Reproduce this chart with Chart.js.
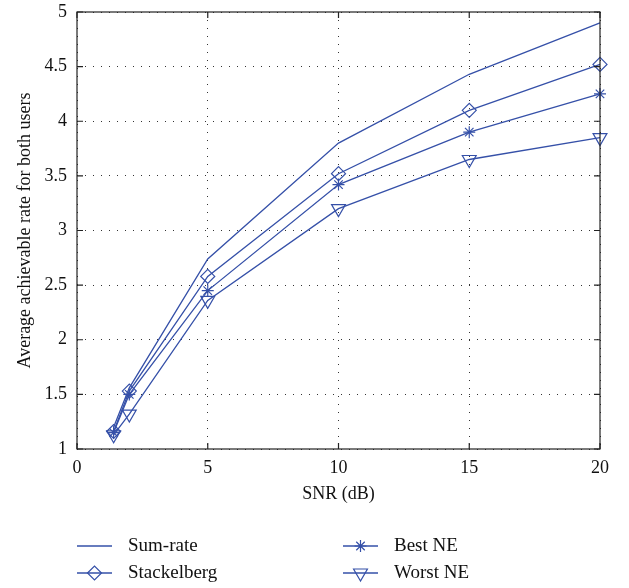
<!DOCTYPE html>
<html>
<head>
<meta charset="utf-8">
<script src="https://cdn.jsdelivr.net/npm/chart.js@4"></script>
<style>
  html, body { margin: 0; padding: 0; background: #fff; }
  #wrap { width: 629px; height: 588px; }
</style>
</head>
<body>
<div id="wrap"><canvas id="c"></canvas></div>
<script>
// values
const snr = [1.4, 2, 5, 10, 15, 20];
const sumRate = [1.2, 1.56, 2.74, 3.8, 4.43, 4.9];
const stackelberg = [1.16, 1.53, 2.58, 3.52, 4.1, 4.52];
const bestNE = [1.15, 1.5, 2.45, 3.42, 3.9, 4.25];
const worstNE = [1.13, 1.32, 2.36, 3.2, 3.65, 3.85];
const xTicks = [0, 5, 10, 15, 20];
const yTicks = [1, 1.5, 2, 2.5, 3, 3.5, 4, 4.5, 5];

const blue = '#3550a8';
const font = 'Liberation Serif';

const pts = (ys) => snr.map((x, i) => ({ x: x, y: ys[i] }));

function series(label, ys, style, rot, r) {
  return {
    label: label,
    data: pts(ys),
    borderColor: blue,
    borderWidth: 1.3,
    pointStyle: style,
    rotation: rot || 0,
    pointRadius: style ? (r || 7) : 0,
    pointBorderColor: blue,
    pointBackgroundColor: 'rgba(255,255,255,0)',
    pointBorderWidth: 1.2,
    tension: 0,
    clip: false,
  };
}

// box, inward ticks and a two-column legend below the axes
const frame = {
  id: 'frame',
  afterDraw(chart) {
    const { ctx, chartArea: a, scales } = chart;
    ctx.save();
    ctx.strokeStyle = '#222';
    ctx.lineWidth = 1.2;
    ctx.strokeRect(a.left, a.top, a.right - a.left, a.bottom - a.top);
    ctx.beginPath();
    xTicks.forEach(v => {
      const px = scales.x.getPixelForValue(v);
      ctx.moveTo(px, a.bottom); ctx.lineTo(px, a.bottom - 6);
      ctx.moveTo(px, a.top); ctx.lineTo(px, a.top + 6);
    });
    yTicks.forEach(v => {
      const py = scales.y.getPixelForValue(v);
      ctx.moveTo(a.left, py); ctx.lineTo(a.left + 6, py);
      ctx.moveTo(a.right, py); ctx.lineTo(a.right - 6, py);
    });
    ctx.stroke();

    const spots = [[77, 546], [77, 573], [343, 546], [343, 573]];
    chart.data.datasets.forEach((ds, i) => {
      const [lx, ly] = spots[i];
      ctx.strokeStyle = blue;
      ctx.lineWidth = 1.3;
      ctx.beginPath();
      ctx.moveTo(lx, ly); ctx.lineTo(lx + 35, ly);
      ctx.stroke();
      if (ds.pointStyle) {
        ctx.lineWidth = 1.2;
        ctx.fillStyle = 'rgba(255,255,255,0)';
        Chart.helpers.drawPoint(ctx, { pointStyle: ds.pointStyle, rotation: ds.rotation, radius: ds.pointRadius, borderWidth: 1.2 }, lx + 17.5, ly);
      }
      ctx.fillStyle = '#111';
      ctx.font = '19px "' + font + '"';
      ctx.textBaseline = 'middle';
      ctx.fillText(ds.label, lx + 51, ly);
    });
    ctx.restore();
  }
};

new Chart(document.getElementById('c'), {
  type: 'line',
  data: {
    datasets: [
      series('Sum-rate', sumRate, false),
      series('Stackelberg', stackelberg, 'rectRot', 0, 7),
      series('Best NE', bestNE, 'star', 0, 6),
      series('Worst NE', worstNE, 'triangle', 180, 8),
    ]
  },
  options: {
    responsive: true,
    maintainAspectRatio: false,
    animation: false,
    layout: { padding: { left: 0, top: 12, right: 29, bottom: 79 } },
    plugins: { legend: { display: false }, tooltip: { enabled: false } },
    scales: {
      x: {
        type: 'linear',
        min: 0, max: 20,
        afterFit(s) { s.height = 60; s.paddingLeft = 0; s.paddingRight = 0; },
        afterBuildTicks(s) { s.ticks = xTicks.map(v => ({ value: v })); },
        grid: { color: '#333', lineWidth: 1, drawTicks: false },
        border: { display: false, dash: [1, 7] },
        ticks: { color: '#111', font: { family: font, size: 18 }, padding: 8, callback: v => String(v) },
        title: { display: true, text: 'SNR (dB)', color: '#111', font: { family: font, size: 18 }, padding: { top: 6 } }
      },
      y: {
        min: 1, max: 5,
        afterFit(s) { s.width = 77; s.paddingTop = 0; s.paddingBottom = 0; },
        afterBuildTicks(s) { s.ticks = yTicks.map(v => ({ value: v })); },
        grid: { color: '#333', lineWidth: 1, drawTicks: false },
        border: { display: false, dash: [1, 7] },
        ticks: { color: '#111', font: { family: font, size: 18 }, padding: 10, callback: v => String(v) },
        title: { display: true, text: 'Average achievable rate for both users', color: '#111', font: { family: font, size: 18 }, padding: { top: 14, bottom: 2 } }
      }
    }
  },
  plugins: [frame]
});
</script>
</body>
</html>
